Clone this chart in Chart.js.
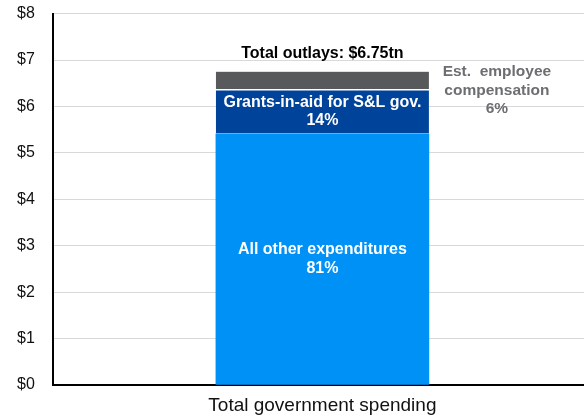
<!DOCTYPE html>
<html>
<head>
<meta charset="utf-8">
<script src="https://cdn.jsdelivr.net/npm/chart.js@4/dist/chart.umd.min.js"></script>
<style>
  html, body { margin: 0; padding: 0; background: #fff; overflow: hidden; }
  /* plot runs past the right edge of the window, as in the source picture */
  #wrap { width: 592px; height: 417px; }
</style>
</head>
<body>
<div id="wrap"><canvas id="spendChart"></canvas></div>
<script>
// data ($ trillions)
const categories = ['Total government spending'];
const otherExpenditures = [5.41];
const grantsInAid = [0.95];
const employeeComp = [0.39];
const segmentLabels = [
  ['All other expenditures', '81%'],
  ['Grants-in-aid for S&L gov.', '14%'],
  ['Est.  employee', 'compensation', '6%']
];
const totalLabel = 'Total outlays: $6.75tn';

// draws the segment and total labels from the bar elements
const barLabels = {
  id: 'barLabels',
  afterDatasetsDraw(chart) {
    const ctx = chart.ctx;
    ctx.save();
    ctx.font = 'bold 16px "Liberation Sans", Arial, sans-serif';
    ctx.textAlign = 'center';
    ctx.textBaseline = 'middle';
    const lh = 18.5;

    // inside labels for the two blue segments
    [0, 1].forEach(i => {
      const bar = chart.getDatasetMeta(i).data[0];
      const lines = segmentLabels[i];
      const cy = (bar.y + bar.base) / 2;
      ctx.fillStyle = '#ffffff';
      lines.forEach((t, k) => {
        ctx.fillText(t, bar.x, cy + (k - (lines.length - 1) / 2) * lh);
      });
    });

    // grey label outside, to the right of the bar
    const top = chart.getDatasetMeta(2).data[0];
    const lines = segmentLabels[2];
    ctx.fillStyle = '#6d6e71';
    ctx.font = 'bold 15.5px "Liberation Sans", Arial, sans-serif';
    lines.forEach((t, k) => {
      ctx.fillText(t, top.x + top.width / 2 + 68, (top.y + top.base) / 2 + 10 + (k - 1) * lh);
    });

    // total above the bar
    ctx.font = 'bold 16px "Liberation Sans", Arial, sans-serif';
    ctx.fillStyle = '#000000';
    ctx.fillText(totalLabel, top.x, top.y - 18);
    ctx.restore();
  }
};

const spendChart = document.getElementById('spendChart');

var barChart = new Chart(spendChart, {
  type: 'bar',
  data: {
    labels: categories,
    datasets: [
      {
        data: otherExpenditures,
        backgroundColor: '#0091f7',
        borderWidth: 0
      },
      {
        data: grantsInAid,
        backgroundColor: '#00439a',
        borderColor: '#ffffff',
        borderWidth: { top: 1, bottom: 1, left: 0, right: 0 },
        borderSkipped: false
      },
      {
        data: employeeComp,
        backgroundColor: '#58595b',
        borderColor: '#ffffff',
        borderWidth: { top: 0, bottom: 1, left: 0, right: 0 },
        borderSkipped: false
      }
    ]
  },
  options: {
    responsive: true,
    maintainAspectRatio: false,
    animation: false,
    barThickness: 213,
    layout: {
      padding: { left: 13, right: 0, top: 0, bottom: -10 }
    },
    plugins: {
      legend: { display: false },
      tooltip: { enabled: false }
    },
    scales: {
      x: {
        stacked: true,
        grid: { display: false, drawTicks: false },
        border: { color: '#000000', width: 2 },
        ticks: {
          color: '#111111',
          padding: 9.6,
          font: { family: '"Liberation Sans", Arial, sans-serif', size: 19 }
        }
      },
      y: {
        stacked: true,
        min: 0,
        max: 8,
        grid: { color: '#d9d9d9', drawTicks: true, tickLength: 14, tickColor: 'rgba(0,0,0,0)' },
        border: { color: '#000000', width: 2 },
        ticks: {
          stepSize: 1,
          padding: 4,
          color: '#111111',
          font: { family: '"Liberation Sans", Arial, sans-serif', size: 16 },
          callback: v => '$' + v
        }
      }
    }
  },
  plugins: [barLabels]
});
</script>
</body>
</html>
